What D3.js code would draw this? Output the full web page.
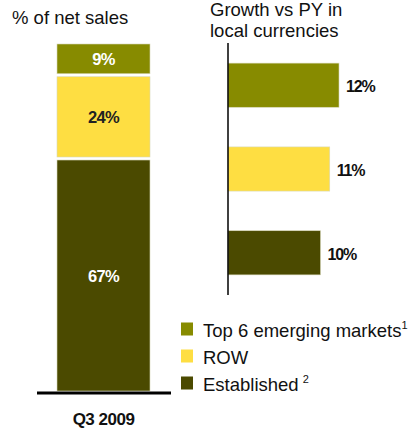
<!DOCTYPE html>
<html><head><meta charset="utf-8">
<script src="https://cdn.jsdelivr.net/npm/d3@7"></script>
<style>body{margin:0;background:#fff}svg{display:block;font-family:"Liberation Sans",Arial,sans-serif}</style>
</head><body>
<script>
const categories = ["Top 6 emerging markets", "ROW", "Established"];
const shareValues = [9, 24, 67];
const growthValues = [12, 11, 10];
const shareLabels = ["9%", "24%", "67%"];
const growthLabels = ["12%", "11%", "10%"];
const colors = ["#878b00", "#fede42", "#4b4a00"];
const legendSup = ["1", "", "2"];
const periodLabel = "Q3 2009";

const svg = d3.select("body").append("svg").attr("width", 412).attr("height", 428);

// Titles
svg.append("text").attr("x", 12).attr("y", 24).attr("font-size", 18.5).attr("fill", "#111").text("% of net sales");
svg.append("text").attr("x", 210).attr("y", 16).attr("font-size", 18.5).attr("fill", "#111").text("Growth vs PY in");
svg.append("text").attr("x", 210).attr("y", 37).attr("font-size", 18.5).attr("fill", "#111").text("local currencies");

// Stacked bar
const y = d3.scaleLinear().domain([0, 100]).range([391, 44]);
let cum = 0;
const stack = shareValues.map((v, i) => ({ v, i })).reverse().map(d => {
  const s = { ...d, y0: cum, y1: cum + d.v }; cum += d.v; return s;
});
const gap = 1.5;
svg.selectAll("rect.stack").data(stack).join("rect")
  .attr("x", 57).attr("width", 93)
  .attr("y", d => y(d.y1) + (d.y1 < 100 ? gap : 0))
  .attr("height", d => y(d.y0) - y(d.y1) - (d.y1 < 100 ? gap : 0) - (d.y0 > 0 ? gap : 0))
  .attr("fill", d => colors[d.i])
  .attr("stroke", "#d8d8b8").attr("stroke-width", 0.6);
const labelY = [65, 123, 282];
svg.selectAll("text.stack").data(stack).join("text")
  .attr("x", 103.5)
  .attr("y", d => labelY[d.i])
  .attr("text-anchor", "middle").attr("font-size", 16.5).attr("font-weight", "bold").attr("letter-spacing", -0.6)
  .attr("fill", d => d.i === 1 ? "#222" : "#fff")
  .text(d => shareLabels[d.i]);
svg.append("line").attr("x1", 37).attr("x2", 171).attr("y1", 393).attr("y2", 393).attr("stroke", "#000").attr("stroke-width", 3);
svg.append("text").attr("x", 103.5).attr("y", 425).attr("text-anchor", "middle").attr("font-size", 17)
  .attr("font-weight", "bold").attr("letter-spacing", -0.5).attr("fill", "#111").text(periodLabel);

// Growth bars
const x = d3.scaleLinear().domain([0, 12]).range([228, 339]);
const yb = d3.scaleBand().domain(categories).range([43, 295]).paddingInner(0.473).paddingOuter(0.24);
svg.selectAll("rect.g").data(growthValues).join("rect")
  .attr("x", x(0)).attr("y", (d, i) => yb(categories[i]))
  .attr("width", d => x(d) - x(0)).attr("height", yb.bandwidth())
  .attr("fill", (d, i) => colors[i])
  .attr("stroke", "#d8d8b8").attr("stroke-width", 0.6);
svg.selectAll("text.g").data(growthValues).join("text")
  .attr("x", d => x(d) + 7).attr("y", (d, i) => yb(categories[i]) + yb.bandwidth() / 2 + 7)
  .attr("font-size", 16).attr("font-weight", "bold").attr("letter-spacing", -1.2).attr("fill", "#111")
  .text((d, i) => growthLabels[i]);
svg.append("line").attr("x1", 228).attr("x2", 228).attr("y1", 43).attr("y2", 295).attr("stroke", "#000").attr("stroke-width", 1.5);

// Legend
const lg = svg.append("g");
categories.forEach((c, i) => {
  const ly = 329 + i * 27;
  lg.append("rect").attr("x", 181).attr("y", ly - 6.5).attr("width", 12).attr("height", 13).attr("fill", colors[i]);
  const t = lg.append("text").attr("x", 203).attr("y", ly + 8).attr("font-size", 18.5).attr("fill", "#111").text(c);
  if (legendSup[i]) {
    t.append("tspan").attr("font-size", 11).attr("dy", -8).attr("dx", i === 2 ? 4 : 0).text(legendSup[i]);
  }
});
</script>
</body></html>
